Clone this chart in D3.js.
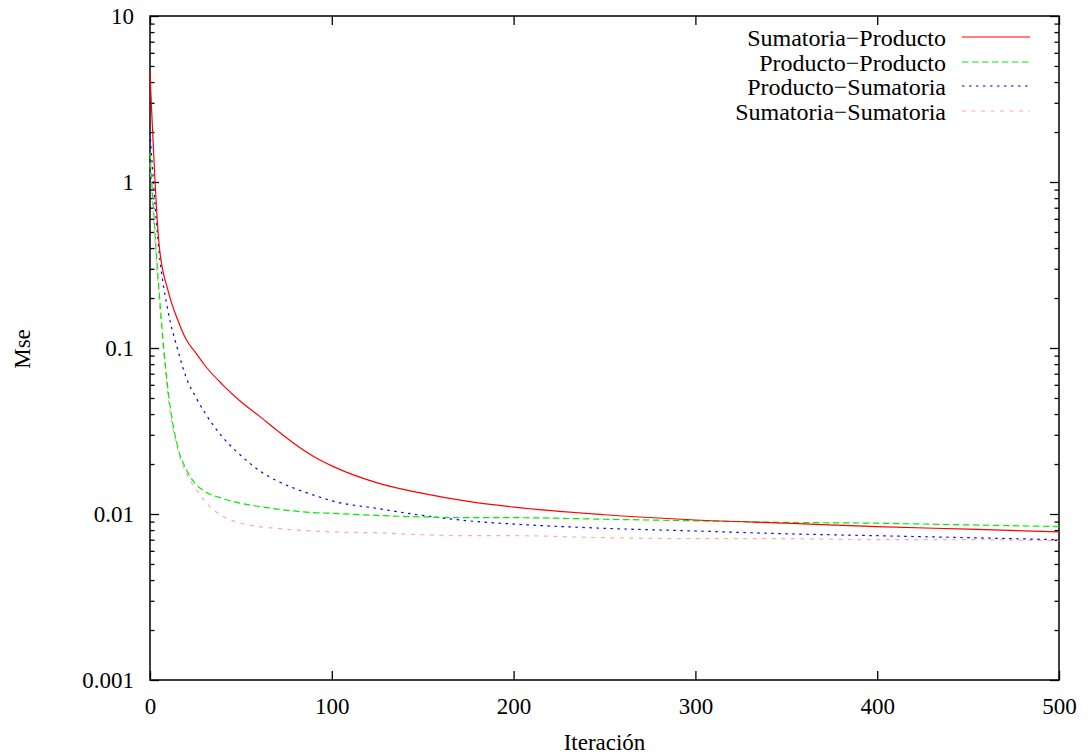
<!DOCTYPE html>
<html lang="es">
<head>
	<meta charset="UTF-8">
	<title>Mse por iteración</title>
	<script src="https://cdn.jsdelivr.net/npm/d3@7"></script>
	<style>
		body { margin: 0; background: #fff; }
		text { font-family: "Liberation Serif", "Times New Roman", serif; fill: #000; }
	</style>
</head>
<body>
	<div id="vis"></div>

	<script>
		// iterations where the curves were sampled
		var iteraciones = [0, 5, 10, 15, 20, 25, 30, 40, 50, 60, 70, 80, 90, 100, 125, 150, 175, 200, 250, 300, 350, 400, 450, 500];

		var sumatoriaProducto = [4.55, 0.42, 0.22, 0.15, 0.112, 0.094, 0.079, 0.06, 0.0475, 0.039, 0.0318, 0.0262, 0.0222, 0.0195,
			0.0154, 0.0133, 0.0119, 0.011, 0.0099, 0.0092, 0.0088, 0.0084, 0.0081, 0.0078];
		var productoProducto = [1.5, 0.22, 0.055, 0.026, 0.0185, 0.0152, 0.0137, 0.0124, 0.0116, 0.0111, 0.0107, 0.0104, 0.0102, 0.0101,
			0.0098, 0.0096, 0.0095, 0.0095, 0.0093, 0.0091, 0.0089, 0.0088, 0.0086, 0.0084];
		var productoSumatoria = [2.0, 0.38, 0.165, 0.1, 0.066, 0.051, 0.041, 0.029, 0.0225, 0.0183, 0.0158, 0.0142, 0.013, 0.012,
			0.0108, 0.0098, 0.0091, 0.0087, 0.0082, 0.0079, 0.0076, 0.0074, 0.0072, 0.0070];
		var sumatoriaSumatoria = [1.3, 0.2, 0.05, 0.025, 0.0175, 0.0143, 0.012, 0.0097, 0.0088, 0.0084, 0.0082, 0.008, 0.0079, 0.0078,
			0.0077, 0.0075, 0.0074, 0.0074, 0.0072, 0.0071, 0.0071, 0.007, 0.007, 0.0069];

		var nombres = ["Sumatoria\u2212Producto", "Producto\u2212Producto", "Producto\u2212Sumatoria", "Sumatoria\u2212Sumatoria"];
		var colores = ["#ff0000", "#00ee00", "#0000ff", "#ffa8a8"];
		var trazos = [null, "6.5,3.5", "2.5,4.5", "4,5.5"];

		var xTicks = [0, 100, 200, 300, 400, 500];
		var yTicks = [0.001, 0.01, 0.1, 1, 10];
		var yTickLabels = ["0.001", "0.01", "0.1", "1", "10"];

		var width = 1088;
		var height = 755;
		// plot box (window.top is reserved, so no plain "top")
		var box = { left: 150, right: 1059, top: 16, bottom: 680 };

		var svg = d3.select("#vis").append("svg")
			.attr("width", width)
			.attr("height", height);

		var x = d3.scaleLinear().domain([0, 500]).range([box.left, box.right]);
		var y = d3.scaleLog().domain([0.001, 10]).range([box.bottom, box.top]);

		// minor ticks 2..9 in every decade
		var minors = [];
		for (var e = -3; e < 1; e++) {
			for (var k = 2; k <= 9; k++) minors.push(k * Math.pow(10, e));
		}

		function clean(g) {
			g.select(".domain").remove();
			g.selectAll(".tick line").attr("stroke", "#000").attr("stroke-width", 1.3);
			g.selectAll(".tick text").style("font-size", "23px").attr("font-family", null);
		}

		// left axis with labels, ticks pointing inside
		svg.append("g")
			.attr("transform", "translate(" + box.left + ",0)")
			.call(d3.axisLeft(y).tickValues(yTicks).tickSize(-9).tickPadding(16)
				.tickFormat(function(d, i) { return yTickLabels[i]; }))
			.call(clean);
		svg.append("g")
			.attr("transform", "translate(" + box.left + ",0)")
			.call(d3.axisLeft(y).tickValues(minors).tickSize(-4.5).tickFormat(""))
			.call(clean);

		// mirrored right axis
		svg.append("g")
			.attr("transform", "translate(" + box.right + ",0)")
			.call(d3.axisRight(y).tickValues(yTicks).tickSize(-9).tickFormat(""))
			.call(clean);
		svg.append("g")
			.attr("transform", "translate(" + box.right + ",0)")
			.call(d3.axisRight(y).tickValues(minors).tickSize(-4.5).tickFormat(""))
			.call(clean);

		// bottom and top x axes
		svg.append("g")
			.attr("transform", "translate(0," + box.bottom + ")")
			.call(d3.axisBottom(x).tickValues(xTicks).tickSize(-9).tickPadding(18))
			.call(clean);
		svg.append("g")
			.attr("transform", "translate(0," + box.top + ")")
			.call(d3.axisTop(x).tickValues(xTicks).tickSize(-9).tickFormat(""))
			.call(clean);

		// frame
		svg.append("rect")
			.attr("x", box.left)
			.attr("y", box.top)
			.attr("width", box.right - box.left)
			.attr("height", box.bottom - box.top)
			.attr("fill", "none")
			.attr("stroke", "#000")
			.attr("stroke-width", 1.5);

		// curves
		var series = [sumatoriaProducto, productoProducto, productoSumatoria, sumatoriaSumatoria];
		var line = d3.line()
			.x(function(d, i) { return x(iteraciones[i]); })
			.y(function(d) { return y(d); })
			.curve(d3.curveMonotoneX);

		// draw the pink one first so it sits underneath
		[3, 2, 1, 0].forEach(function(s) {
			svg.append("path")
				.datum(series[s])
				.attr("d", line)
				.attr("fill", "none")
				.attr("stroke", colores[s])
				.attr("stroke-width", 1.2)
				.attr("stroke-dasharray", trazos[s]);
		});

		// legend
		var legend = svg.append("g");
		nombres.forEach(function(n, i) {
			var ly = Math.round(37 + i * 24.5);
			legend.append("text")
				.attr("x", 946)
				.attr("y", ly + 9)
				.attr("text-anchor", "end")
				.style("font-size", "24px")
				.text(n);
			legend.append("line")
				.attr("x1", 962)
				.attr("x2", 1030)
				.attr("y1", ly)
				.attr("y2", ly)
				.attr("stroke", colores[i])
				.attr("stroke-width", 1.2)
				.attr("stroke-dasharray", trazos[i]);
		});

		// axis titles
		svg.append("text")
			.attr("x", (box.left + box.right) / 2)
			.attr("y", 750)
			.attr("text-anchor", "middle")
			.style("font-size", "23px")
			.text("Iteración");

		svg.append("text")
			.attr("transform", "translate(30,349) rotate(-90)")
			.attr("text-anchor", "middle")
			.style("font-size", "23px")
			.text("Mse");
	</script>
</body>
</html>
